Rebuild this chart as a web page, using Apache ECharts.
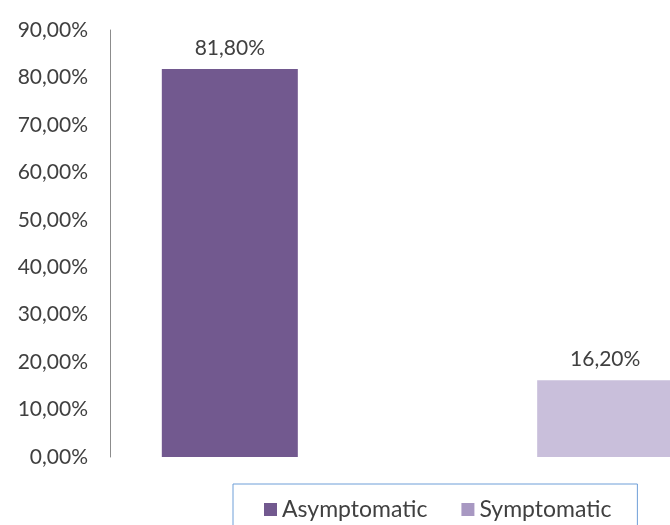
<!DOCTYPE html>
<html>
<head>
<meta charset="utf-8">
<script src="https://cdn.jsdelivr.net/npm/echarts@6/dist/echarts.min.js"></script>
<style>
html, body { margin: 0; padding: 0; background: #fff; }
#main { width: 670px; height: 525px; }
</style>
</head>
<body>
<div id="main"></div>
<script>
var chart = echarts.init(document.getElementById('main'));

// data
var categories = [''];
var seriesNames = ['Asymptomatic', 'Symptomatic'];
var asymptomatic = [81.8];
var symptomatic = [16.2];
var barColors = ['#72598f', '#c9bfdb'];
var legendColors = ['#72598f', '#a898c2'];

function pct(v) {
    return v.toFixed(2).replace('.', ',') + '%';
}

var font = 'Lato, "Open Sans", sans-serif';

var option = {
    animation: false,
    grid: {
        left: 110,
        width: 615,
        top: 30,
        bottom: 68,
        outerBoundsMode: 'none'
    },
    legend: {
        data: [
            {name: seriesNames[0], itemStyle: {color: legendColors[0]}},
            {name: seriesNames[1], itemStyle: {color: legendColors[1]}}
        ],
        left: 233,
        top: 484,
        itemWidth: 13,
        itemHeight: 13,
        itemGap: 34,
        icon: 'rect',
        borderColor: '#6f9fd8',
        borderWidth: 1,
        padding: [14, 26, 30, 31],
        textStyle: {fontFamily: font, fontSize: 23, color: '#404040'}
    },
    xAxis: {
        type: 'category',
        data: categories,
        axisLine: {show: false},
        axisTick: {show: false},
        axisLabel: {show: false}
    },
    yAxis: {
        type: 'value',
        min: 0,
        max: 90,
        interval: 10,
        axisLine: {show: true, lineStyle: {color: '#8c8c8c', width: 1}},
        axisTick: {show: false},
        splitLine: {show: false},
        axisLabel: {
            margin: 22,
            fontFamily: font,
            fontSize: 21,
            color: '#404040',
            formatter: function (v) { return pct(v); }
        }
    },
    series: [
        {
            name: seriesNames[0],
            type: 'bar',
            data: asymptomatic,
            barWidth: 136,
            barGap: '176%',
            itemStyle: {color: barColors[0]},
            label: {
                show: true,
                position: 'top',
                distance: 10,
                fontFamily: font,
                fontSize: 21,
                color: '#404040',
                formatter: function (p) { return pct(p.value); }
            }
        },
        {
            name: seriesNames[1],
            type: 'bar',
            data: symptomatic,
            barWidth: 136,
            itemStyle: {color: barColors[1]},
            label: {
                show: true,
                position: 'top',
                distance: 10,
                fontFamily: font,
                fontSize: 21,
                color: '#404040',
                formatter: function (p) { return pct(p.value); }
            }
        }
    ]
};

chart.setOption(option);
</script>
</body>
</html>
